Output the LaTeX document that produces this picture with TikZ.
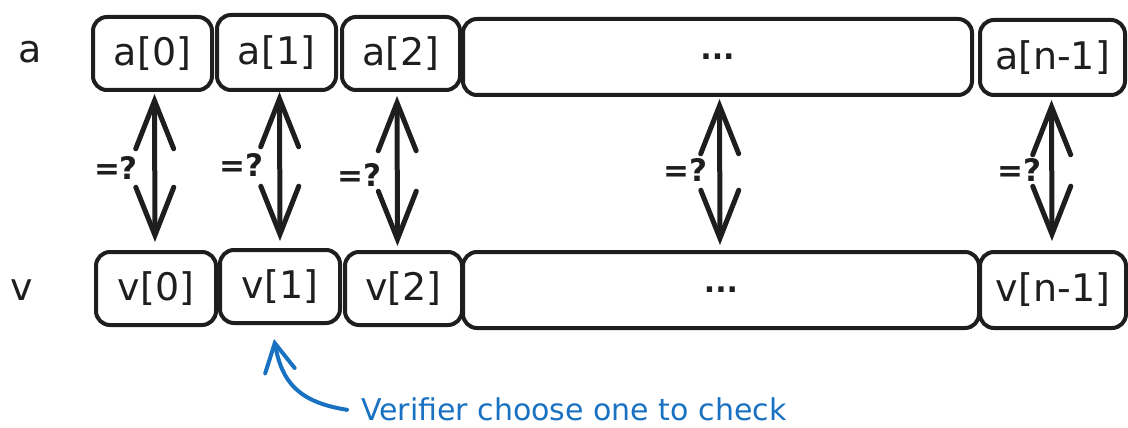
\documentclass[tikz,border=0pt]{standalone}
\usepackage{fontspec}
\setmainfont{DejaVu Sans}
\usetikzlibrary{arrows.meta}
\definecolor{ink}{HTML}{1E1E1E}
\definecolor{bluink}{HTML}{1971C2}
\tikzset{
  cell/.style={draw=ink, line width=4pt, rounded corners=14pt, inner sep=0pt,
    font=\fontsize{38}{40}\selectfont, text=ink},
  dots/.style={cell, font=\fontsize{30}{32}\selectfont\bfseries},
  rowlbl/.style={font=\fontsize{38}{40}\selectfont, text=ink, inner sep=0pt},
  eqlbl/.style={font=\fontsize{31}{33}\selectfont\bfseries, text=ink, inner sep=0pt},
  cmp/.style={draw=ink, line width=5pt, line cap=round,
    {Straight Barb[length=48pt,width=38pt,line cap=round]}-{Straight Barb[length=48pt,width=38pt,line cap=round]}},
  note/.style={draw=bluink, line width=4pt, line cap=round,
    -{Straight Barb[length=28pt,width=30pt,line cap=round]}},
  notetxt/.style={font=\fontsize{30}{32}\selectfont, text=bluink, inner sep=0pt}
}
\begin{document}
\begin{tikzpicture}[x=1pt,y=-1pt]
\useasboundingbox (0,0) rectangle (1128,428);
% row labels
\node[rowlbl] (la) at (30,52) {a};
\node[rowlbl] (lv) at (22,290) {v};
% top row
\node[cell, minimum width=119pt, minimum height=73pt] (a0) at (152.5,53.5) {a[0]};
\node[cell, minimum width=119pt, minimum height=75pt] (a1) at (276.5,52.5) {a[1]};
\node[cell, minimum width=118pt, minimum height=73pt] (a2) at (401,53.5) {a[2]};
\node[dots, minimum width=509pt, minimum height=76pt] (ad) at (717.5,57) {...};
\node[cell, minimum width=145pt, minimum height=75pt] (an) at (1052.5,57.5) {a[n-1]};
% bottom row
\node[cell, minimum width=120pt, minimum height=73pt] (v0) at (156,288.5) {v[0]};
\node[cell, minimum width=120pt, minimum height=73pt] (v1) at (280,286.5) {v[1]};
\node[cell, minimum width=117pt, minimum height=73pt] (v2) at (403.5,288.5) {v[2]};
\node[dots, minimum width=516pt, minimum height=76pt] (vd) at (721,290) {...};
\node[cell, minimum width=146pt, minimum height=76pt] (vn) at (1053,290) {v[n-1]};
% comparison arrows
\draw[cmp, shorten <=2pt, shorten >=8pt] ([xshift=2pt]a0.south) -- ([xshift=-1pt]v0.north);
\draw[cmp, shorten <=0pt, shorten >=7pt] ([xshift=3pt]a1.south) -- (v1.north);
\draw[cmp, shorten <=4pt, shorten >=4pt] ([xshift=-4pt]a2.south) -- ([xshift=-6pt]v2.north);
\draw[cmp, shorten <=2pt, shorten >=5pt] ([xshift=2pt]ad.south) -- ([xshift=-1pt]vd.north);
\draw[cmp, shorten <=3pt, shorten >=9pt] ([xshift=-1pt]an.south) -- ([xshift=-1pt]vn.north);
% =? labels
\node[eqlbl] (q0) at (116,168) {=?};
\node[eqlbl] (q1) at (241,165) {=?};
\node[eqlbl] (q2) at (359,175) {=?};
\node[eqlbl] (q3) at (685,170) {=?};
\node[eqlbl] (q4) at (1019,170) {=?};
% verifier note
\node[notetxt, anchor=base west] (vt) at (361,420) {Verifier choose one to check};
\draw[note] ([xshift=-14pt,yshift=-1pt]vt.west) .. controls (298,402) and (282,382) .. ([xshift=-6pt,yshift=-14pt]v1.south);
\end{tikzpicture}
\end{document}
